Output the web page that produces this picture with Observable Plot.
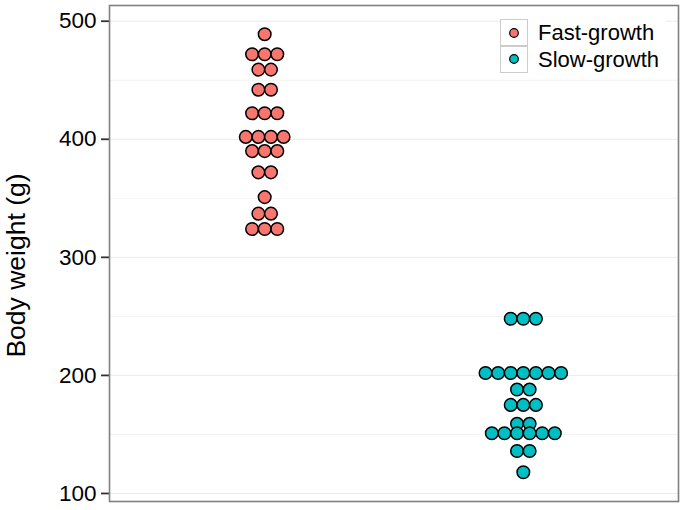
<!DOCTYPE html>
<html>
<head>
<meta charset="utf-8">
<script src="https://cdn.jsdelivr.net/npm/d3@7"></script>
<script src="https://cdn.jsdelivr.net/npm/@observablehq/plot@0.6"></script>
<style>
  body { margin: 0; background: #fff; }
  #wrap { position: relative; width: 685px; height: 510px; font-family: "Liberation Sans", Arial, sans-serif; }
  #legend { position: absolute; left: 500px; top: 19px; background: #fff; padding-right: 6px; }
  .row { display: flex; align-items: center; height: 27px; }
  .key { width: 26px; height: 26px; border: 1px solid #cccccc; box-sizing: content-box; display: flex; align-items: center; justify-content: center; margin-top: -1px; }
  .row:first-child .key { margin-top: 0; }
  .lab { font-size: 22px; color: #000; margin-left: 10px; line-height: 27px; }
</style>
</head>
<body>
<div id="wrap"></div>
<script>
// ---- data ----
const groups = ["Fast-growth", "Slow-growth"];
const colors = ["#F8766D", "#00BFC4"];
const fastWeights = [489, 472, 472, 472, 459, 459, 442, 442, 422, 422, 422,
  402, 402, 402, 402, 390, 390, 390, 372, 372, 351, 337, 337, 324, 324, 324];
const slowWeights = [248, 248, 248, 202, 202, 202, 202, 202, 202, 202, 188, 188,
  175, 175, 175, 159, 159, 151, 151, 151, 151, 151, 151, 136, 136, 118];
const yTicks = [100, 200, 300, 400, 500];
const yLabel = "Body weight (g)";

// ---- build centered dot stacks (one row per value) ----
const step = 0.0487; // horizontal spacing of stacked dots, in x units
function stack(values, gi) {
  const counts = d3.rollup(values, v => v.length, v => v);
  const seen = new Map();
  return values.map(v => {
    const n = counts.get(v);
    const i = seen.get(v) || 0;
    seen.set(v, i + 1);
    return {group: groups[gi], gi, weight: v, x: gi + 1 + (i - (n - 1) / 2) * step};
  });
}
const data = [...stack(fastWeights, 0), ...stack(slowWeights, 1)];
const minorTicks = yTicks.slice(0, -1).map((t, i) => (t + yTicks[i + 1]) / 2);

const chart = Plot.plot({
  width: 685,
  height: 510,
  marginLeft: 109,
  marginRight: 7,
  marginTop: 5,
  marginBottom: 9,
  style: {fontFamily: "'Liberation Sans', Arial, sans-serif", background: "#fff"},
  x: {domain: [0.4, 2.6], axis: null},
  y: {domain: [93.2, 513.3], axis: null},
  color: {domain: groups, range: colors},
  marks: [
    Plot.ruleY(minorTicks, {stroke: "#f3f3f3", strokeWidth: 1}),
    Plot.ruleY(yTicks, {stroke: "#ebebeb", strokeWidth: 1}),
    Plot.axisY({ticks: yTicks, tickSize: 8, tickPadding: 5, fontSize: 22.5, tickFormat: d3.format("d"),
      label: null, stroke: "#333", strokeWidth: 1.8, color: "#000"}),
    Plot.text([yLabel], {frameAnchor: "left", rotate: -90, dx: -93, dy: 12, textAnchor: "middle",
      fontSize: 26.5, fill: "#000"}),
    Plot.dot(data, {x: "x", y: "weight", fill: "group", r: 6.3, stroke: "#000", strokeWidth: 1.5}),
    Plot.frame({stroke: "#808080", strokeWidth: 1.6})
  ]
});

const wrap = document.getElementById("wrap");
wrap.appendChild(chart);

// legend (inside panel, top-right)
const legend = document.createElement("div");
legend.id = "legend";
groups.forEach((g, i) => {
  const row = document.createElement("div");
  row.className = "row";
  row.innerHTML = `<div class="key"><svg width="12" height="12"><circle cx="6" cy="6" r="4.3" fill="${colors[i]}" stroke="#000" stroke-width="1.2"/></svg></div><span class="lab">${g}</span>`;
  legend.appendChild(row);
});
wrap.appendChild(legend);
</script>
</body>
</html>
